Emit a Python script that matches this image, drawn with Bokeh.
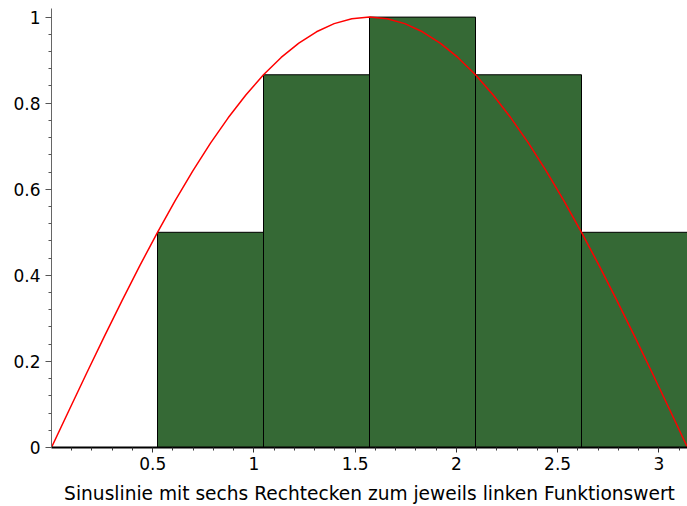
import math
import numpy as np
from bokeh.plotting import figure
from bokeh.models import Range1d, FixedTicker, ColumnDataSource
from bokeh.embed import file_html
from bokeh.resources import INLINE

# ---- data ----
# left-endpoint function values of the six rectangles
rect_heights = [0.0, 0.5, 0.866, 1.0, 0.866, 0.5]
n_rects = 6
# sine curve sampled every 5 degrees from 0 to 180
curve_values = [0.0, 0.0872, 0.1736, 0.2588, 0.3420, 0.4226, 0.5, 0.5736, 0.6428,
                0.7071, 0.7660, 0.8192, 0.8660, 0.9063, 0.9397, 0.9659, 0.9848,
                0.9962, 1.0, 0.9962, 0.9848, 0.9659, 0.9397, 0.9063, 0.8660,
                0.8192, 0.7660, 0.7071, 0.6428, 0.5736, 0.5, 0.4226, 0.3420,
                0.2588, 0.1736, 0.0872, 0.0]
x_tick_values = [0.5, 1, 1.5, 2, 2.5, 3]
x_tick_labels = ["0.5", "1", "1.5", "2", "2.5", "3"]
y_tick_values = [0, 0.2, 0.4, 0.6, 0.8, 1.0]
y_tick_labels = ["0", "0.2", "0.4", "0.6", "0.8", "1"]
x_title = "Sinuslinie mit sechs Rechtecken zum jeweils linken Funktionswert"

x_end = math.pi
dx = x_end / n_rects
lefts = [i * dx for i in range(n_rects)]
rights = [(i + 1) * dx for i in range(n_rects)]
curve_x = list(np.linspace(0, x_end, len(curve_values)))

FONT = "DejaVu Sans"

p = figure(width=687, height=506, output_backend="svg", toolbar_location=None,
           x_range=Range1d(0, x_end), y_range=Range1d(0, 1.02),
           min_border_left=51, min_border_right=0, min_border_top=8,
           min_border_bottom=59)
p.outline_line_color = None
p.xgrid.visible = False
p.ygrid.visible = False
p.background_fill_color = "white"
p.border_fill_color = "white"

src = ColumnDataSource(dict(left=lefts, right=rights, top=rect_heights,
                            bottom=[0] * n_rects))
p.quad(left="left", right="right", top="top", bottom="bottom", source=src,
       fill_color="#356935", line_color="black", line_width=1)

p.line(curve_x, curve_values, line_color="red", line_width=1.5)

# x axis
xa = p.xaxis[0]
xa.ticker = FixedTicker(ticks=x_tick_values,
                        minor_ticks=[round(0.1 * k, 1) for k in range(1, 32) if k % 5 != 0])
xa.major_label_overrides = {v: l for v, l in zip(x_tick_values, x_tick_labels)}
xa.axis_line_color = "black"
xa.axis_line_width = 2
xa.major_tick_line_color = "#333333"
xa.minor_tick_line_color = "#333333"
xa.major_tick_out = 5
xa.major_tick_in = 0
xa.minor_tick_out = 3
xa.minor_tick_in = 0
xa.major_label_text_font = FONT
xa.major_label_text_font_size = "17px"
xa.major_label_text_color = "black"
xa.major_label_standoff = 4
xa.axis_label = x_title
xa.axis_label_text_font = FONT
xa.axis_label_text_font_size = "18.6px"
xa.axis_label_text_font_style = "normal"
xa.axis_label_text_color = "black"
xa.axis_label_standoff = 10

# y axis
ya = p.yaxis[0]
ya.ticker = FixedTicker(ticks=y_tick_values,
                        minor_ticks=[round(0.04 * k, 2) for k in range(1, 25) if k % 5 != 0])
ya.major_label_overrides = {v: l for v, l in zip(y_tick_values, y_tick_labels)}
ya.axis_line_color = "#666666"
ya.major_tick_line_color = "#555555"
ya.minor_tick_line_color = "#555555"
ya.major_tick_out = 6
ya.major_tick_in = 0
ya.minor_tick_out = 3
ya.minor_tick_in = 0
ya.major_label_text_font = FONT
ya.major_label_text_font_size = "17px"
ya.major_label_text_color = "black"
ya.major_label_standoff = 5

open("out.html", "w").write(file_html(p, INLINE))
